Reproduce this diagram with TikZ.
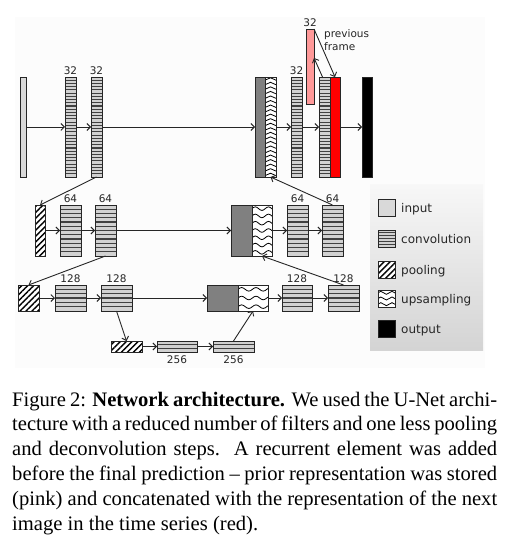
\documentclass[tikz,border=0pt]{standalone}
\usepackage{fontspec}
\setmainfont{Liberation Serif}
\newfontfamily\dvs{DejaVu Sans}
\usetikzlibrary{arrows.meta,calc,patterns.meta}
\begin{document}
\begin{tikzpicture}[x=1pt,y=-1pt,
 blk/.style={draw=black!85, line width=0.9pt, inner sep=0pt, outer sep=0pt, anchor=north west},
 wh/.style 2 args={minimum width=#1pt, minimum height=#2pt},
 inp/.style={blk, fill=black!15},
 cat/.style={blk, fill=black!50},
 outp/.style={blk, fill=black},
 prev/.style={blk, fill=red!40},
 cur/.style={blk, fill=red},
 conv/.style={blk, fill=black!18, path picture={
   \foreach \i [evaluate=\i as \f using \i/(#1+1)] in {1,...,#1}{
     \draw[line width=1.1pt, black!75]
       ($(path picture bounding box.north west)!\f!(path picture bounding box.south west)$) --
       ($(path picture bounding box.north east)!\f!(path picture bounding box.south east)$);
   }}},
 pool/.style={blk, preaction={fill=white}, pattern={Lines[angle=45,distance=4.2pt,line width=1.4pt]}, pattern color=black},
 ups/.style n args={3}{blk, fill=white, path picture={
   \foreach \i [evaluate=\i as \f using (\i-0.5)/#1] in {1,...,#1}{
     \draw[line width=0.8pt, black]
       ($(path picture bounding box.north west)!\f!(path picture bounding box.south west)$)
       \foreach \k in {1,...,5}{ sin ++(#2,-#3) cos ++(#2,#3) sin ++(#2,#3) cos ++(#2,-#3) };
   }}},
 chev/.style n args={3}{blk, fill=white, path picture={
   \foreach \i [evaluate=\i as \f using (\i-0.3)/#1] in {1,...,#1}{
     \draw[line width=0.8pt, black]
       ($(path picture bounding box.north west)!\f!(path picture bounding box.south west)$)
       -- ++(#2,-#3) -- ++(#2,#3);
   }}},
 arr/.style={-{Straight Barb[length=3.5pt,width=7pt]}, line width=0.9pt, black!85},
 lbl/.style={font=\dvs\fontsize{10.5}{13}\selectfont, inner sep=0pt, text=black!85},
 leg/.style={font=\dvs\fontsize{12}{14}\selectfont, inner sep=0pt, anchor=base west, text=black!85},
 captxt/.style={font=\fontsize{20.6}{24.8}\selectfont, inner sep=0pt, anchor=base west},
]
\useasboundingbox (0,0) rectangle (505,545);
\fill[black!1] (15,17) rectangle (485,368);
\node[inner sep=0pt, outer sep=0pt, anchor=north west, minimum width=113pt, minimum height=165pt, top color=black!3, bottom color=black!17] (legbg) at (370,185) {};

% Row 1
\node[inp, wh={6}{100}] (in) at (20,77) {};
\node[conv=30, wh={11}{100}] (c11) at (65,77) {};
\node[conv=30, wh={11}{100}] (c12) at (91,77) {};
\node[cat, wh={10}{100}] (g1) at (255,77) {};
\node[chev={22}{5.5}{2.4}, wh={11}{100}] (u1) at (265,77) {};
\node[conv=30, wh={11}{100}] (c13) at (291,77) {};
\node[conv=30, wh={11}{100}] (c14) at (319,77) {};
\node[cur, wh={10}{100}] (red) at (330,77) {};
\node[prev, wh={8}{75}] (pink) at (306,29) {};
\node[outp, wh={10}{100}] (out) at (362,77) {};
\node[lbl, above=2.5pt] (l11) at (c11.north) {32};
\node[lbl, above=2.5pt] (l12) at (c12.north) {32};
\node[lbl, above=2.5pt] (l13) at (c13.north) {32};
\node[lbl, above=2.5pt] (lpk) at (pink.north) {32};
\node[lbl, anchor=north west, align=left] (pf) at (324,29) {previous\\frame};
\draw[arr] (in.east) -- (c11.west);
\draw[arr] (c11.east) -- (c12.west);
\draw[arr] (c12.east) -- (g1.west);
\draw[arr] (u1.east) -- (c13.west);
\draw[arr] (c13.east) -- (c14.west);
\draw[arr] (red.east) -- (out.west);
\draw[arr] ([xshift=3.5pt]c14.north west) -- ([yshift=8.5pt]pink.east);
\draw[arr] (pink.north east) -- (red.north);

% Row 2
\node[pool, wh={10}{51}] (p2) at (35,205) {};
\node[conv=11, wh={21}{51}] (c21) at (60,205) {};
\node[conv=11, wh={21}{51}] (c22) at (95,205) {};
\node[cat, wh={21}{51}] (g2) at (231,205) {};
\node[ups={7}{3.3}{1.8}, wh={20}{51}] (u2) at (252,205) {};
\node[conv=11, wh={21}{51}] (c23) at (287,205) {};
\node[conv=11, wh={21}{51}] (c24) at (322,205) {};
\node[lbl, above=2.5pt] (l21) at (c21.north) {64};
\node[lbl, above=2.5pt] (l22) at (c22.north) {64};
\node[lbl, above=2.5pt] (l23) at (c23.north) {64};
\node[lbl, above=2.5pt] (l24) at (c24.north) {64};
\draw[arr] (p2.east) -- (c21.west);
\draw[arr] (c21.east) -- (c22.west);
\draw[arr] (c22.east) -- (g2.west);
\draw[arr] (u2.east) -- (c23.west);
\draw[arr] (c23.east) -- (c24.west);
\draw[arr] (c12.south) -- (p2.north);
\draw[arr] (c24.north) -- (u1.south);

% Row 3
\node[pool, wh={21}{26}] (p3) at (18,285) {};
\node[conv=5, wh={31}{26}] (c31) at (55,285) {};
\node[conv=5, wh={31}{26}] (c32) at (101,285) {};
\node[cat, wh={31}{26}] (g3) at (207,285) {};
\node[ups={3}{3.6}{1.8}, wh={30}{26}] (u3) at (238,285) {};
\node[conv=5, wh={30}{26}] (c33) at (282,285) {};
\node[conv=5, wh={31}{26}] (c34) at (328,285) {};
\node[lbl, above=2.5pt] (l31) at (c31.north) {128};
\node[lbl, above=2.5pt] (l32) at (c32.north) {128};
\node[lbl, above=2.5pt] (l33) at (c33.north) {128};
\node[lbl, above=2.5pt] (l34) at (c34.north) {128};
\draw[arr] (p3.east) -- (c31.west);
\draw[arr] (c31.east) -- (c32.west);
\draw[arr] (c32.east) -- (g3.west);
\draw[arr] (u3.east) -- (c33.west);
\draw[arr] (c33.east) -- (c34.west);
\draw[arr] (c22.south) -- (p3.north);
\draw[arr] (c34.north) -- (u2.south);

% Row 4
\node[pool, wh={31}{11}] (p4) at (111,341) {};
\node[conv=2, wh={40}{11}] (c41) at (157,341) {};
\node[conv=2, wh={41}{11}] (c42) at (213,341) {};
\node[lbl, below=3.5pt] (l41) at (c41.south) {256};
\node[lbl, below=3.5pt] (l42) at (c42.south) {256};
\draw[arr] (p4.east) -- (c41.west);
\draw[arr] (c41.east) -- (c42.west);
\draw[arr] (c32.south) -- (p4.north);
\draw[arr] (c42.north) -- (u3.south);

% Legend
\node[inp, wh={17}{17}] (li) at (378,199) {};
\node[conv=5, wh={17}{17}] (lc) at (378,230) {};
\node[pool, wh={17}{17}] (lp) at (378,261) {};
\node[ups={3}{2.8}{1.5}, wh={17}{17}] (lu) at (378,290) {};
\node[outp, wh={17}{17}] (lo) at (378,320) {};
\node[leg] (ti) at (401,212) {input};
\node[leg] (tc) at (401,243) {convolution};
\node[leg] (tp) at (401,274) {pooling};
\node[leg] (tu) at (401,303) {upsampling};
\node[leg] (to) at (401,333) {output};

% Caption
\node[captxt] (cap1) at (12,406) {\makebox[485pt][s]{Figure 2: \textbf{Network architecture.} We used the U-Net archi-}};
\node[captxt] (cap2) at (12,430.8) {\makebox[485pt][s]{tecture with a reduced number of filters and one less pooling}};
\node[captxt] (cap3) at (12,455.6) {\makebox[485pt][s]{and deconvolution steps.\ \ A recurrent element was added}};
\node[captxt] (cap4) at (12,480.4) {\makebox[485pt][s]{before the final prediction – prior representation was stored}};
\node[captxt] (cap5) at (12,505.2) {\makebox[485pt][s]{(pink) and concatenated with the representation of the next}};
\node[captxt] (cap6) at (12,530) {image in the time series (red).};
\end{tikzpicture}
\end{document}
